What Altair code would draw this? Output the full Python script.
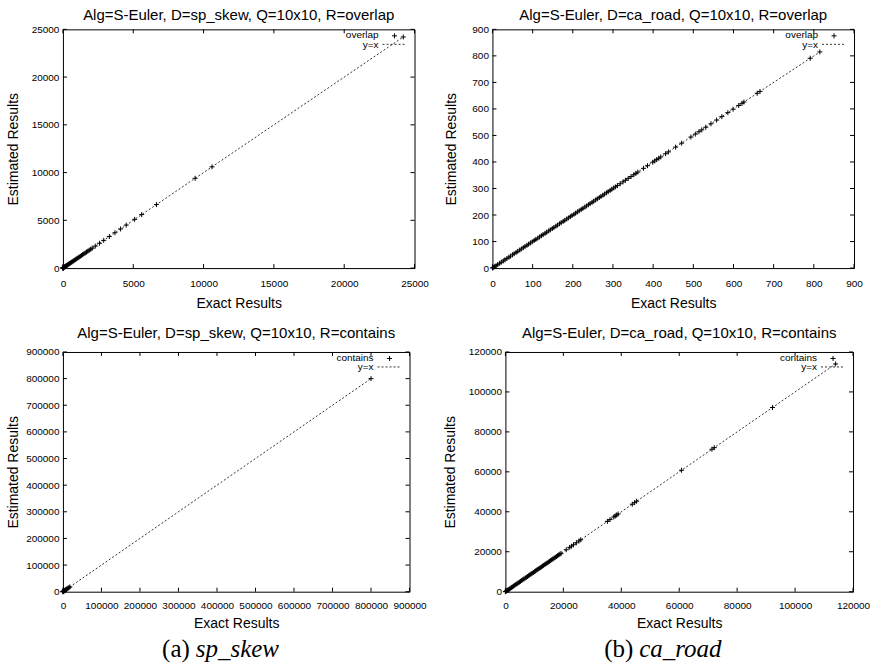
import altair as alt
import pandas as pd

# ---------------- data (estimated results equal the exact results: every point is on y = x)
# (a) sp_skew, R=overlap
skew_overlap_exact = [0, 3, 8, 15, 24, 36, 50, 68, 90, 115, 140, 170, 205, 240, 280, 325, 370, 420,
                      475, 530, 590, 650, 715, 780, 850, 920, 995, 1070, 1150, 1230, 1315, 1400, 1490,
                      1580, 1675, 1770, 1870, 1975, 2080, 2300, 2600, 2900, 3300, 3700, 4100, 4500,
                      5100, 5600, 6650, 9400, 10600, 24200]
skew_overlap_est = skew_overlap_exact
# (b) ca_road, R=overlap
road_overlap_exact = [0, 2, 5, 9, 13, 18, 22, 27, 31, 36, 41, 45, 50, 54, 59, 63, 68, 72, 77, 81, 86,
                      90, 95, 99, 104, 108, 113, 117, 122, 126, 131, 135, 140, 144, 149, 153, 158, 162,
                      167, 171, 176, 180, 185, 189, 194, 198, 203, 207, 212, 216, 221, 225, 230, 234,
                      239, 243, 248, 252, 257, 261, 266, 270, 275, 279, 284, 288, 293, 297, 302, 306,
                      311, 318, 325, 331, 338, 345, 352, 357, 362, 376, 386, 399, 404, 409, 414, 419,
                      431, 438, 456, 471, 494, 505, 514, 521, 531, 544, 558, 571, 586, 599, 613, 621,
                      626, 659, 666, 791, 815]
road_overlap_est = road_overlap_exact
# (a) sp_skew, R=contains
skew_contains_exact = [0, 150, 400, 800, 1300, 2000, 2800, 3700, 4800, 6000, 7500, 9000, 11000,
                       13000, 15500, 18000, 800000]
skew_contains_est = skew_contains_exact
# (b) ca_road, R=contains
road_contains_exact = [0, 150, 420, 700, 1010, 1340, 1700, 2060, 2390, 2810, 3190, 3600, 4020, 4380,
                       4810, 5190, 5620, 6010, 6380, 6820, 7190, 7610, 8020, 8390, 8810, 9180, 9620,
                       10010, 10400, 10820, 11190, 11610, 12020, 12380, 12810, 13190, 13620, 14010,
                       14390, 14820, 15190, 15610, 16020, 16380, 16810, 17190, 17620, 18010, 18400,
                       18800, 19200, 21000, 22200, 22800, 23500, 24500, 25400, 26000, 35200, 36100,
                       37400, 37900, 38400, 38900, 43800, 44600, 45300, 60800, 71300, 72100, 92200,
                       114000]
road_contains_est = road_contains_exact

# y = x reference line end points
skew_overlap_line = [0, 24200]
road_overlap_line = [0, 815]
skew_contains_line = [0, 800000]
road_contains_line = [0, 114000]

# axis ticks
ticks_skew_overlap = [0, 5000, 10000, 15000, 20000, 25000]
ticks_road_overlap = [0, 100, 200, 300, 400, 500, 600, 700, 800, 900]
ticks_skew_contains = [0, 100000, 200000, 300000, 400000, 500000, 600000, 700000, 800000, 900000]
ticks_road_contains = [0, 20000, 40000, 60000, 80000, 100000, 120000]

titles = ["Alg=S-Euler, D=sp_skew, Q=10x10, R=overlap",
          "Alg=S-Euler, D=ca_road, Q=10x10, R=overlap",
          "Alg=S-Euler, D=sp_skew, Q=10x10, R=contains",
          "Alg=S-Euler, D=ca_road, Q=10x10, R=contains"]
series_labels = ["overlap", "overlap", "contains", "contains"]
line_label = "y=x"
captions = [("(a)", "sp_skew"), ("(b)", "ca_road")]

SANS = "Liberation Sans"
SERIF = "Liberation Serif"
PLUS = "M-1,0H1M0,-1V1"
TICK = 4


def panel(exact, est, line_end, ticks, w, h, title, label, ytx, xlp, xty, toff, caption=None):
    dmax = ticks[-1]
    xs = alt.Scale(domain=[0, dmax], nice=False, zero=True)
    ys = alt.Scale(domain=[0, dmax], nice=False, zero=True)
    x_axis = alt.Axis(title="Exact Results", values=ticks, format="d", ticks=False, domain=False,
                      grid=False, labelFont=SANS, labelFontSize=10, labelColor="black",
                      labelPadding=xlp, labelFlush=False, labelOverlap=False,
                      titleFont=SANS, titleFontSize=14, titleFontWeight="normal", titleColor="black",
                      titleX=w / 2, titleY=xty, titleBaseline="middle", titleAlign="center")
    y_axis = alt.Axis(title="Estimated Results", values=ticks, format="d", ticks=False, domain=False,
                      grid=False, labelFont=SANS, labelFontSize=10, labelColor="black",
                      labelPadding=4, labelFlush=False, labelOverlap=False,
                      titleFont=SANS, titleFontSize=14, titleFontWeight="normal", titleColor="black",
                      titleX=ytx, titleY=h / 2, titleAngle=270, titleBaseline="middle",
                      titleAlign="center")
    df = pd.DataFrame({"exact": exact, "est": est})
    pts = alt.Chart(df).mark_point(shape=PLUS, size=25, filled=False, color="black",
                                   strokeWidth=1, opacity=1).encode(
        x=alt.X("exact:Q", scale=xs, axis=x_axis),
        y=alt.Y("est:Q", scale=ys, axis=y_axis))
    ldf = pd.DataFrame({"exact": line_end, "est": line_end})
    line = alt.Chart(ldf).mark_line(color="black", strokeWidth=0.8, strokeDash=[2, 2]).encode(
        x=alt.X("exact:Q", scale=xs, axis=x_axis), y=alt.Y("est:Q", scale=ys, axis=y_axis))
    tdf = pd.DataFrame({"exact": ticks, "est": ticks})
    tb = alt.Chart(tdf).mark_rule(color="black", strokeWidth=1).encode(
        x=alt.X("exact:Q", scale=xs, axis=x_axis), y=alt.value(h), y2=alt.value(h - TICK))
    tt = alt.Chart(tdf).mark_rule(color="black", strokeWidth=1).encode(
        x=alt.X("exact:Q", scale=xs, axis=x_axis), y=alt.value(0), y2=alt.value(TICK))
    tl = alt.Chart(tdf).mark_rule(color="black", strokeWidth=1).encode(
        y=alt.Y("est:Q", scale=ys, axis=y_axis), x=alt.value(0), x2=alt.value(TICK))
    tr = alt.Chart(tdf).mark_rule(color="black", strokeWidth=1).encode(
        y=alt.Y("est:Q", scale=ys, axis=y_axis), x=alt.value(w - TICK), x2=alt.value(w))
    kdf = pd.DataFrame({"t": [label], "l": [line_label]})
    k1 = alt.Chart(kdf).mark_text(align="right", baseline="middle", font=SANS, fontSize=10,
                                  color="black").encode(text="t:N", x=alt.value(w - 36), y=alt.value(6))
    k2 = alt.Chart(kdf).mark_point(shape=PLUS, size=25, filled=False, color="black",
                                   strokeWidth=1, opacity=1).encode(x=alt.value(w - 20), y=alt.value(6.5))
    k3 = alt.Chart(kdf).mark_text(align="right", baseline="middle", font=SANS, fontSize=10,
                                  color="black").encode(text="l:N", x=alt.value(w - 36), y=alt.value(15.5))
    k4 = alt.Chart(kdf).mark_rule(color="black", strokeWidth=0.8, strokeDash=[2, 2]).encode(
        x=alt.value(w - 32), x2=alt.value(w - 9), y=alt.value(15))
    layers = [pts, line, tb, tt, tl, tr, k1, k2, k3, k4]
    if caption is not None:
        (pre, name), (cx1, cx2) = caption
        cdf = pd.DataFrame({"p": [pre], "n": [name]})
        c1 = alt.Chart(cdf).mark_text(align="right", baseline="middle", font=SERIF, fontSize=25,
                                      color="black").encode(text="p:N", x=alt.value(cx1),
                                                            y=alt.value(h + 57))
        c2 = alt.Chart(cdf).mark_text(align="left", baseline="middle", font=SERIF, fontSize=25,
                                      fontStyle="italic", color="black").encode(
            text="n:N", x=alt.value(cx2), y=alt.value(h + 57))
        layers += [c1, c2]
    return alt.layer(*layers).properties(
        width=w, height=h,
        title=alt.TitleParams(text=title, font=SANS, fontSize=15, fontWeight="normal",
                              color="black", anchor="middle", frame="group",
                              baseline="alphabetic", offset=toff))


tl_panel = panel(skew_overlap_exact, skew_overlap_est, skew_overlap_line, ticks_skew_overlap,
                 352, 239, titles[0], series_labels[0], -49, 10, 35, -11)
tr_panel = panel(road_overlap_exact, road_overlap_est, road_overlap_line, ticks_road_overlap,
                 362, 239, titles[1], series_labels[1], -41, 10, 35, -11)
bl_panel = panel(skew_contains_exact, skew_contains_est, skew_contains_line, ticks_skew_contains,
                 347, 240, titles[2], series_labels[2], -49, 9, 32, -6,
                 caption=(captions[0], (127, 133)))
br_panel = panel(road_contains_exact, road_contains_est, road_contains_line, ticks_road_contains,
                 348, 240, titles[3], series_labels[3], -55, 9, 32, -6,
                 caption=(captions[1], (128, 134)))

chart = alt.vconcat(
    alt.hconcat(tl_panel, tr_panel, spacing=14),
    alt.hconcat(bl_panel, br_panel, spacing=15),
    spacing=14,
).properties(
    padding={"left": 6, "top": 7, "right": 0, "bottom": 0},
    background="white",
).configure_view(stroke="black", strokeWidth=1)

chart.save("out.html", embed_options={"renderer": "svg", "actions": False})
